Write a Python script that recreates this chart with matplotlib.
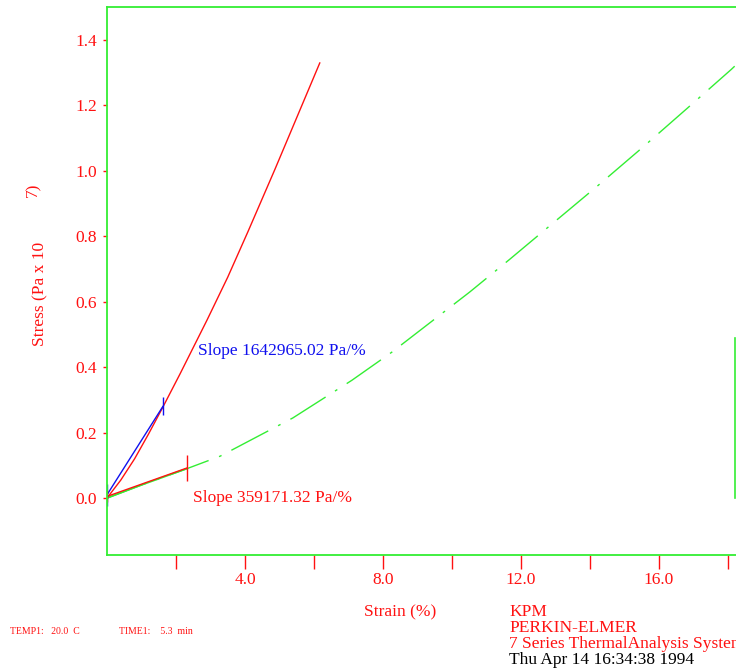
import matplotlib.pyplot as plt

plt.rcParams['font.family'] = ['Liberation Serif', 'DejaVu Serif']

# courbe rouge (montée rapide)
red_x = [0.0, 0.4, 0.8, 1.2, 1.62, 2.12, 2.9, 3.5, 4.09, 4.87, 5.65, 6.17]
red_y = [0.0, 0.055, 0.12, 0.195, 0.278, 0.38, 0.544, 0.675, 0.815, 1.005, 1.2, 1.33]

# courbe verte (tiret-point)
green_x = [0.0, 1.0, 2.32, 3.28, 5.39, 7.1, 8.26, 10.52, 11.68, 12.7, 13.36,
           14.29, 15.51, 16.81, 18.1, 18.2]
green_y = [0.0, 0.04, 0.09, 0.128, 0.245, 0.36, 0.446, 0.63, 0.73, 0.82, 0.878,
           0.96, 1.07, 1.19, 1.31, 1.32]
green_start_x = [0.0, 1.0, 2.32]
green_start_y = [0.0, 0.04, 0.09]

# droites de pente
blue_slope_x = [0.0, 1.62]
blue_slope_y = [0.01, 0.28]
red_slope_x = [0.0, 2.32]
red_slope_y = [0.005, 0.092]

# trait vertical vert à droite
vert_x = [18.2, 18.2]
vert_y = [0.0, 0.49]

y_ticks = [0.0, 0.2, 0.4, 0.6, 0.8, 1.0, 1.2, 1.4]
x_ticks = [2, 4, 6, 8, 10, 12, 14, 16, 18]
x_labels = ['', '4.0', '', '8.0', '', '12.0', '', '16.0', '']

W, H = 736, 671
fig = plt.figure(figsize=(W / 100, H / 100), dpi=100)
ax = fig.add_axes([107 / W, (H - 555) / H, 638 / W, 548 / H])

GREEN = '#33ee33'
RED = '#ff1111'
BLUE = '#1111ee'
FS = 12.5

ax.plot(green_x, green_y, color=GREEN, lw=1, dashes=(30, 8, 2, 8))
ax.plot(green_start_x, green_start_y, color=GREEN, lw=1.2)
ax.plot(red_x, red_y, color=RED, lw=1)
ax.plot(blue_slope_x, blue_slope_y, color=BLUE, lw=1)
ax.plot(red_slope_x, red_slope_y, color=RED, lw=1)
ax.plot(vert_x, vert_y, color=GREEN, lw=1.2)

# petites marques aux extrémités des pentes
ax.plot(blue_slope_x[:1], blue_slope_y[:1], marker='|', color=BLUE, ms=16, mew=1)
ax.plot(blue_slope_x[1:], blue_slope_y[1:], marker='|', color=BLUE, ms=13, mew=1)
ax.plot(red_slope_x[:1], red_slope_y[:1], marker='|', color=RED, ms=8, mew=1)
ax.plot(red_slope_x[1:], red_slope_y[1:], marker='|', color=RED, ms=19, mew=1)

ax.text(2.65, 0.45, 'Slope 1642965.02 Pa/%', color=BLUE, fontsize=FS, va='center')
ax.text(2.5, 0.0, 'Slope 359171.32 Pa/%', color=RED, fontsize=FS, va='center')

ax.set_xlim(0, 18.5)
ax.set_ylim(-0.174, 1.501)

for side in ['left', 'top', 'bottom']:
    ax.spines[side].set_color(GREEN)
    ax.spines[side].set_linewidth(1.3)
ax.spines['right'].set_visible(False)

ax.set_yticks(y_ticks)
ax.set_yticklabels([f'{v:.1f}' for v in y_ticks])
ax.set_xticks(x_ticks)
ax.set_xticklabels(x_labels)
ax.tick_params(axis='y', colors=RED, labelsize=FS, length=3, width=1, pad=4)
ax.tick_params(axis='x', colors=RED, labelsize=FS, length=10, width=1, pad=2)

fig.text(400 / W, 1 - 612 / H, 'Strain (%)', color=RED, fontsize=FS,
         ha='center', va='center')
fig.text(40 / W, 1 - 294 / H, 'Stress (Pa x 10', color=RED, fontsize=FS,
         rotation=90, ha='center', va='center')
fig.text(33 / W, 1 - 190 / H, '7)', color=RED, fontsize=FS,
         rotation=90, ha='center', va='center')

fig.text(10 / W, 1 - 631 / H, 'TEMP1:   20.0  C', color=RED, fontsize=7, va='center')
fig.text(119 / W, 1 - 631 / H, 'TIME1:    5.3  min', color=RED, fontsize=7, va='center')

info = ['KPM', 'PERKIN-ELMER', '7 Series ThermalAnalysis System']
for i, line in enumerate(info):
    fig.text(509 / W, 1 - (612 + 16 * i) / H, line, color=RED, fontsize=FS, va='center')
fig.text(509 / W, 1 - 660 / H, 'Thu Apr 14 16:34:38 1994', color='black',
         fontsize=FS, va='center')

fig.savefig('out.png', dpi=100)
